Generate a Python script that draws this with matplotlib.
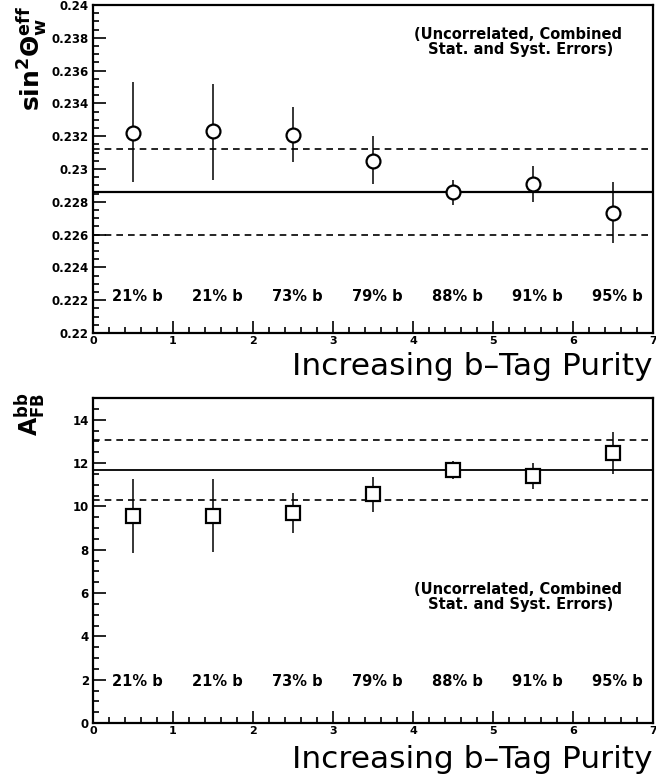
import matplotlib
matplotlib.use("Agg")
import matplotlib.pyplot as plt
from matplotlib.ticker import MultipleLocator, FormatStrFormatter

# data
xpos = [0.5, 1.5, 2.5, 3.5, 4.5, 5.5, 6.5]
purity = ["21% b", "21% b", "73% b", "79% b", "88% b", "91% b", "95% b"]

sin2 = [0.2322, 0.2323, 0.2321, 0.2305, 0.2286, 0.2291, 0.2273]
sin2_hi = [0.2353, 0.2352, 0.2338, 0.2320, 0.2293, 0.2302, 0.2292]
sin2_lo = [0.2292, 0.2293, 0.2304, 0.2291, 0.2278, 0.2280, 0.2255]
sin2_avg = 0.2286
sin2_band = [0.2260, 0.2312]

afb = [9.55, 9.55, 9.7, 10.56, 11.68, 11.4, 12.45]
afb_hi = [11.25, 11.25, 10.6, 11.37, 12.1, 12.0, 13.41]
afb_lo = [7.86, 7.9, 8.75, 9.74, 11.28, 10.79, 11.48]
afb_avg = 11.7
afb_band = [10.27, 13.05]

note = "(Uncorrelated, Combined\n Stat. and Syst. Errors)"

W, H = 656, 781
fig = plt.figure(figsize=(W / 100, H / 100), dpi=100)


def px_axes(left, top, right, bottom):
    return fig.add_axes([left / W, 1 - bottom / H, (right - left) / W, (bottom - top) / H])


def style(ax, ymajor, yminor, fmt):
    ax.set_xlim(0, 7)
    ax.xaxis.set_major_locator(MultipleLocator(1))
    ax.xaxis.set_minor_locator(MultipleLocator(0.2))
    ax.yaxis.set_major_locator(MultipleLocator(ymajor))
    ax.yaxis.set_minor_locator(MultipleLocator(yminor))
    ax.yaxis.set_major_formatter(fmt)
    ax.tick_params(which="both", direction="in", top=False, right=False, width=1.2)
    ax.tick_params(which="major", length=9, labelsize=8.5, pad=3)
    ax.tick_params(axis="x", which="major", labelsize=8, pad=2)
    ax.tick_params(which="minor", length=4)
    for lab in ax.get_xticklabels() + ax.get_yticklabels():
        lab.set_fontweight("bold")
    for s in ax.spines.values():
        s.set_linewidth(1.6)


def errs(vals, hi, lo):
    return [[v - l for v, l in zip(vals, lo)], [h - v for v, h in zip(vals, hi)]]


# top panel
ax1 = px_axes(93, 5, 653, 333)
ax1.set_ylim(0.22, 0.24)
ax1.axhline(sin2_avg, color="black", lw=1.6)
for b in sin2_band:
    ax1.axhline(b, color="black", lw=1.2, ls=(0, (4, 3)))
ax1.errorbar(xpos, sin2, yerr=errs(sin2, sin2_hi, sin2_lo), fmt="o", ms=10,
             mfc="white", mec="black", mew=1.6, ecolor="black", elinewidth=1.1, zorder=3)
for x, t in zip(xpos, purity):
    ax1.text(x + 0.05, 0.2222, t, ha="center", va="center", fontsize=10.5, fontweight="bold")
ax1.text(0.759, 0.887, note, transform=ax1.transAxes, ha="center", va="center",
         fontsize=10.5, fontweight="bold", linespacing=1.0)
style(ax1, 0.002, 0.0005,
      plt.FuncFormatter(lambda v, p: ("%.3f" % v).rstrip("0").rstrip(".")))

# bottom panel
ax2 = px_axes(93, 398, 653, 723)
ax2.set_ylim(0, 15)
ax2.axhline(afb_avg, color="black", lw=1.3)
for b in afb_band:
    ax2.axhline(b, color="black", lw=1.2, ls=(0, (4, 3)))
ax2.errorbar(xpos, afb, yerr=errs(afb, afb_hi, afb_lo), fmt="s", ms=10,
             mfc="white", mec="black", mew=1.6, ecolor="black", elinewidth=1.1, zorder=3)
for x, t in zip(xpos, purity):
    ax2.text(x + 0.05, 1.9, t, ha="center", va="center", fontsize=10.5, fontweight="bold")
ax2.text(0.759, 0.388, note, transform=ax2.transAxes, ha="center", va="center",
         fontsize=10.5, fontweight="bold", linespacing=1.0)
style(ax2, 2, 0.5, FormatStrFormatter("%d"))

# axis titles
fig.text(652 / W, 1 - 375 / H, "Increasing b\u2013Tag Purity", ha="right", va="baseline", fontsize=22.5)
fig.text(652 / W, 1 - 768 / H, "Increasing b\u2013Tag Purity", ha="right", va="baseline", fontsize=22.5)
fig.text(32 / W, 1 - 58 / H, r"$\mathbf{sin^2\Theta_w^{eff}}$", rotation=90,
         ha="center", va="center", fontsize=18)
fig.text(30 / W, 1 - 414 / H, r"$\mathbf{A_{FB}^{bb}}$", rotation=90,
         ha="center", va="center", fontsize=17)

fig.savefig("out.png", dpi=100)
